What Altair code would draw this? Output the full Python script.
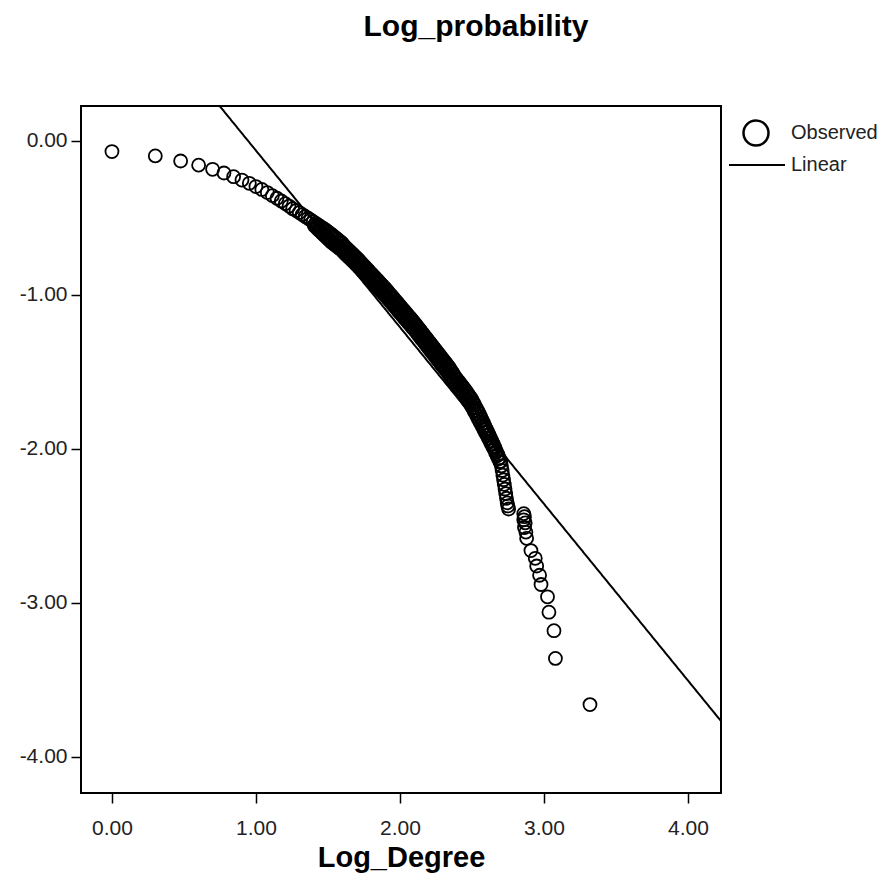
import altair as alt
import pandas as pd

# Observed points (Log_Degree, Log_probability)
obs_x = [
    0.000, 0.301, 0.477, 0.602, 0.699, 0.778, 0.845, 0.903, 0.954, 1.000,
    1.041, 1.079, 1.114, 1.146, 1.176, 1.204, 1.230, 1.255, 1.279, 1.301,
    1.322, 1.342, 1.362, 1.380, 1.398, 1.415, 1.431, 1.447, 1.462, 1.477,
    1.491, 1.505, 1.519, 1.531, 1.544, 1.556, 1.568, 1.580, 1.591, 1.602,
    1.61, 1.62, 1.63, 1.64, 1.65, 1.66, 1.67, 1.68, 1.69, 1.70,
    1.71, 1.72, 1.73, 1.74, 1.75, 1.76, 1.77, 1.78, 1.79, 1.80,
    1.81, 1.82, 1.83, 1.84, 1.85, 1.86, 1.87, 1.88, 1.89, 1.90,
    1.91, 1.92, 1.93, 1.94, 1.95, 1.96, 1.97, 1.98, 1.99, 2.00,
    2.01, 2.02, 2.03, 2.04, 2.05, 2.06, 2.07, 2.08, 2.09, 2.10,
    2.11, 2.12, 2.13, 2.14, 2.15, 2.16, 2.17, 2.18, 2.19, 2.20,
    2.21, 2.22, 2.23, 2.24, 2.25, 2.26, 2.27, 2.28, 2.29, 2.30,
    2.31, 2.32, 2.33, 2.34, 2.35, 2.36, 2.37, 2.38, 2.39, 2.40,
    2.41, 2.42, 2.43, 2.44, 2.45, 2.46, 2.47, 2.48, 2.49, 2.50,
    2.51, 2.52, 2.53, 2.54, 2.55, 2.56, 2.57, 2.58, 2.59, 2.60,
    2.61, 2.62, 2.63, 2.64, 2.65, 2.66, 2.67, 2.68, 2.69, 2.70,
    2.705, 2.71, 2.715, 2.72, 2.725, 2.73, 2.735, 2.74, 2.745, 2.75,
    2.755,
    2.86, 2.865, 2.86, 2.87, 2.865, 2.875, 2.88, 2.91, 2.94, 2.95,
    2.97, 2.98, 3.025, 3.035, 3.07, 3.08, 3.32,
]
obs_y = [
    -0.069, -0.097, -0.130, -0.157, -0.184, -0.208, -0.232, -0.254, -0.275, -0.296,
    -0.315, -0.335, -0.355, -0.372, -0.390, -0.407, -0.423, -0.440, -0.452, -0.465,
    -0.478, -0.490, -0.502, -0.513, -0.524, -0.535, -0.545, -0.555, -0.564, -0.574,
    -0.583, -0.593, -0.603, -0.612, -0.622, -0.631, -0.640, -0.650, -0.658, -0.667,
    -0.679, -0.688, -0.697, -0.706, -0.715, -0.724, -0.733, -0.742, -0.751, -0.760,
    -0.770, -0.780, -0.790, -0.800, -0.810, -0.820, -0.830, -0.840, -0.850, -0.860,
    -0.870, -0.880, -0.890, -0.900, -0.910, -0.920, -0.930, -0.940, -0.950, -0.960,
    -0.971, -0.982, -0.993, -1.004, -1.015, -1.026, -1.037, -1.048, -1.059, -1.070,
    -1.081, -1.092, -1.103, -1.114, -1.125, -1.136, -1.147, -1.158, -1.169, -1.180,
    -1.192, -1.204, -1.216, -1.228, -1.240, -1.252, -1.264, -1.276, -1.288, -1.300,
    -1.312, -1.324, -1.336, -1.348, -1.360, -1.372, -1.384, -1.396, -1.408, -1.420,
    -1.432, -1.444, -1.456, -1.468, -1.482, -1.497, -1.512, -1.527, -1.540, -1.552,
    -1.564, -1.576, -1.588, -1.600, -1.612, -1.625, -1.638, -1.652, -1.666, -1.680,
    -1.698, -1.716, -1.734, -1.752, -1.770, -1.790, -1.810, -1.830, -1.850, -1.870,
    -1.890, -1.910, -1.930, -1.950, -1.970, -1.992, -2.014, -2.036, -2.058, -2.080,
    -2.110, -2.140, -2.170, -2.200, -2.230, -2.260, -2.290, -2.320, -2.350, -2.370,
    -2.390,
    -2.420, -2.440, -2.460, -2.480, -2.510, -2.540, -2.580, -2.660, -2.710, -2.760,
    -2.820, -2.880, -2.960, -3.060, -3.180, -3.360, -3.660,
]

# Lower edge of the dense band (second row of observed points)
band_x = [
    1.405, 1.415, 1.425, 1.435, 1.445, 1.455, 1.465, 1.475, 1.485, 1.495,
    1.505, 1.515, 1.525, 1.535, 1.545, 1.555, 1.565, 1.575, 1.585, 1.595,
    1.605, 1.615, 1.625, 1.635, 1.645, 1.655, 1.665, 1.675, 1.685, 1.695,
    1.705, 1.715, 1.725, 1.735, 1.745, 1.755, 1.765, 1.775, 1.785, 1.795,
    1.805, 1.815, 1.825, 1.835, 1.845, 1.855, 1.865, 1.875, 1.885, 1.895,
    1.905, 1.915, 1.925, 1.935, 1.945, 1.955, 1.965, 1.975, 1.985, 1.995,
    2.005, 2.015, 2.025, 2.035, 2.045, 2.055, 2.065, 2.075, 2.085, 2.095,
    2.105, 2.115, 2.125, 2.135, 2.145, 2.155, 2.165, 2.175, 2.185, 2.195,
    2.205, 2.215, 2.225, 2.235, 2.245, 2.255, 2.265, 2.275, 2.285, 2.295,
    2.305, 2.315, 2.325, 2.335, 2.345, 2.355, 2.365, 2.375, 2.385, 2.395,
    2.405, 2.415, 2.425, 2.435, 2.445, 2.455, 2.465, 2.475, 2.485, 2.495,
    2.505, 2.515, 2.525, 2.535, 2.545, 2.555, 2.565, 2.575, 2.585, 2.595,
    2.605, 2.615, 2.625, 2.635, 2.645, 2.655, 2.665, 2.675, 2.685, 2.695,
]
band_y = [
    -0.549, -0.558, -0.567, -0.576, -0.585, -0.594, -0.603, -0.612, -0.621, -0.630,
    -0.639, -0.648, -0.658, -0.665, -0.672, -0.679, -0.686, -0.693, -0.700, -0.707,
    -0.718, -0.728, -0.737, -0.746, -0.755, -0.764, -0.773, -0.782, -0.791, -0.800,
    -0.810, -0.820, -0.830, -0.840, -0.850, -0.860, -0.870, -0.880, -0.890, -0.900,
    -0.910, -0.920, -0.930, -0.940, -0.950, -0.960, -0.970, -0.980, -0.990, -1.000,
    -1.011, -1.022, -1.033, -1.044, -1.055, -1.066, -1.077, -1.088, -1.099, -1.110,
    -1.121, -1.132, -1.143, -1.154, -1.165, -1.176, -1.187, -1.198, -1.209, -1.220,
    -1.231, -1.243, -1.255, -1.267, -1.279, -1.291, -1.303, -1.315, -1.327, -1.339,
    -1.351, -1.363, -1.375, -1.387, -1.399, -1.411, -1.423, -1.435, -1.447, -1.459,
    -1.471, -1.483, -1.495, -1.507, -1.520, -1.535, -1.550, -1.565, -1.579, -1.591,
    -1.603, -1.615, -1.627, -1.639, -1.651, -1.664, -1.677, -1.690, -1.704, -1.718,
    -1.734, -1.752, -1.770, -1.788, -1.806, -1.823, -1.841, -1.859, -1.877, -1.895,
    -1.913, -1.931, -1.949, -1.967, -1.985, -2.004, -2.024, -2.044, -2.064, -2.084,
]

# Fitted linear line endpoints
lin_x = [0.70, 4.23]
lin_y = [0.282, -3.767]

x_ticks = [0, 1, 2, 3, 4]
y_ticks = [0, -1, -2, -3, -4]
x_domain = [-0.215, 4.23]
y_domain = [-4.234, 0.227]

FONT = "Liberation Sans"

obs = pd.DataFrame({
    "x": obs_x + band_x,
    "y": obs_y + band_y,
    "s": ["Observed"] * (len(obs_x) + len(band_x)),
})
lin = pd.DataFrame({"x": lin_x, "y": lin_y, "s": ["Linear"] * len(lin_x)})

xscale = alt.Scale(domain=x_domain, nice=False, zero=False)
yscale = alt.Scale(domain=y_domain, nice=False, zero=False)

LABEL_EXPR = "datum.value < 0 ? '-' + format(-datum.value, '.2f') : format(datum.value, '.2f')"

xaxis = alt.Axis(
    values=x_ticks, labelExpr=LABEL_EXPR, title="Log_Degree", grid=False, domain=False,
    tickSize=10, tickWidth=1.5, tickColor="black", labelPadding=14,
    labelFont=FONT, labelFontSize=21, labelColor="#222",
    titleFont=FONT, titleFontSize=29, titleFontWeight="bold", titleColor="black",
    titleBaseline="alphabetic", titleY=73,
)
yaxis = alt.Axis(
    values=y_ticks, labelExpr=LABEL_EXPR, title="", grid=False, domain=False,
    tickSize=10, tickWidth=1.5, tickColor="black", labelPadding=4,
    labelFont=FONT, labelFontSize=21, labelColor="#222",
)

points = alt.Chart(obs).mark_point(
    filled=False, stroke="black", strokeWidth=1.8, size=169, opacity=1
).encode(
    x=alt.X("x:Q", scale=xscale, axis=xaxis),
    y=alt.Y("y:Q", scale=yscale, axis=yaxis),
    shape=alt.Shape(
        "s:N",
        scale=alt.Scale(domain=["Observed"], range=["circle"]),
        legend=alt.Legend(
            title=None, orient="none", legendX=661, legendY=13, padding=0,
            symbolSize=625, symbolStrokeWidth=2.5, symbolStrokeColor="black",
            symbolFillColor="white", labelOffset=21, labelFont=FONT,
            labelFontSize=20, labelColor="#222",
        ),
    ),
)

line = alt.Chart(lin).mark_line(color="black", strokeWidth=2, clip=True).encode(
    x=alt.X("x:Q", scale=xscale),
    y=alt.Y("y:Q", scale=yscale),
    strokeDash=alt.StrokeDash(
        "s:N",
        scale=alt.Scale(domain=["Linear"], range=[[1, 0]]),
        legend=alt.Legend(
            title=None, orient="none", legendX=647, legendY=30, padding=0,
            symbolType="stroke", symbolSize=3136, symbolStrokeWidth=2,
            symbolStrokeColor="black", labelOffset=5, labelFont=FONT,
            labelFontSize=20, labelColor="#222",
        ),
    ),
)

chart = alt.layer(points, line).properties(
    width=640,
    height=687,
    padding={"left": 73, "top": 98, "right": 161, "bottom": 80},
    autosize=alt.AutoSizeParams(type="none"),
    title=alt.TitleParams(
        "Log_probability", font=FONT, fontSize=30, fontWeight="bold",
        color="black", anchor="middle", frame="group", dx=75,
        baseline="alphabetic", offset=40,
    ),
    background="white",
).configure_view(
    stroke="black", strokeWidth=2
)

chart.save("out.html", embed_options={"renderer": "svg", "actions": False})
